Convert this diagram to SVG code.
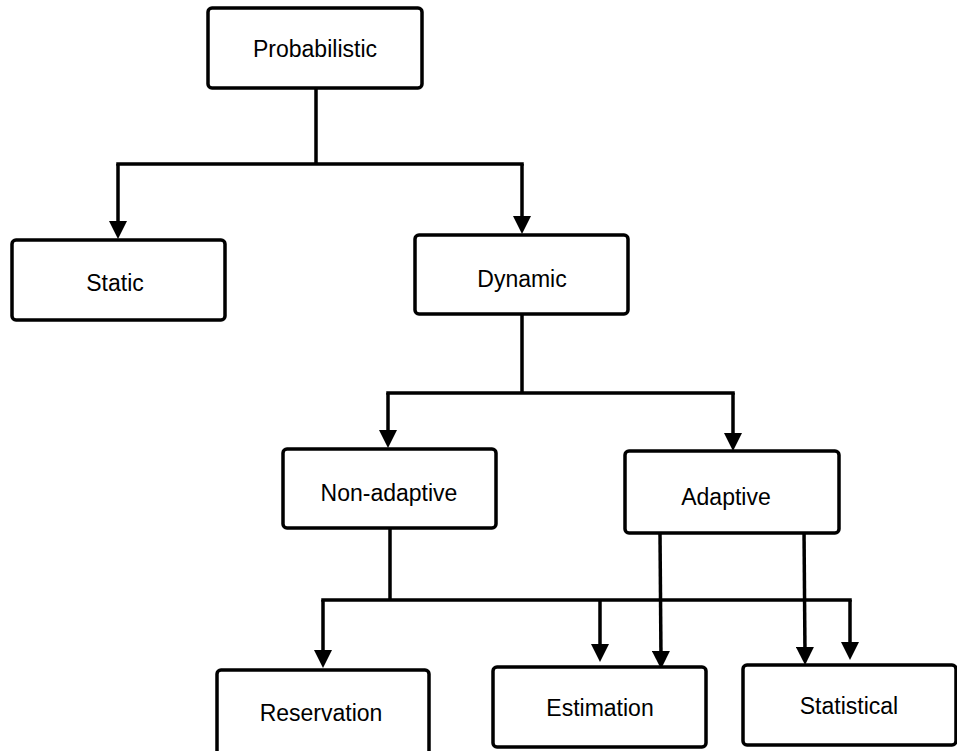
<svg xmlns="http://www.w3.org/2000/svg" width="957" height="751" viewBox="0 0 957 751">
<style>
.box{fill:#fff;stroke:#000;stroke-width:3.5}
.lbl{font-family:"Liberation Sans",Arial,sans-serif;font-size:23px;fill:#000;text-anchor:middle}
.ln{fill:none;stroke:#000;stroke-width:3.5;stroke-linecap:square}
.ar{fill:none;stroke:#000;stroke-width:3.5;stroke-linecap:butt;marker-end:url(#ah)}
</style>
<defs>
<marker id="ah" markerUnits="userSpaceOnUse" markerWidth="18" markerHeight="18" viewBox="0 0 18 18" refX="8" refY="9" orient="auto">
<path d="M0 0L18 9L0 18Z" fill="#000"/>
</marker>
</defs>
<rect width="957" height="751" fill="#fff"/>
<g id="connectors">
<path class="ln" d="M316 88V164M118 164H522"/>
<path class="ar" d="M118 164V229"/>
<path class="ar" d="M522 164V224"/>
<path class="ln" d="M522 314V393M388 393H733"/>
<path class="ar" d="M388 393V438"/>
<path class="ar" d="M733 393V441"/>
<path class="ln" d="M390 528V600M323 600H850"/>
<path class="ar" d="M323 600V658"/>
<path class="ar" d="M600 600V652"/>
<path class="ar" d="M850 600V650"/>
<path class="ar" d="M660 533L661 659"/>
<path class="ar" d="M804 529L805 655"/>
</g>
<g id="probabilistic"><rect class="box" x="208" y="8" width="214" height="80" rx="4"/><text class="lbl" x="315" y="57">Probabilistic</text></g>
<g id="static"><rect class="box" x="12" y="240" width="213" height="80" rx="4"/><text class="lbl" x="115" y="291">Static</text></g>
<g id="dynamic"><rect class="box" x="415" y="235" width="213" height="79" rx="4"/><text class="lbl" x="522" y="287">Dynamic</text></g>
<g id="non-adaptive"><rect class="box" x="283" y="449" width="213" height="79" rx="4"/><text class="lbl" x="389" y="501">Non-adaptive</text></g>
<g id="adaptive"><rect class="box" x="625" y="451" width="214" height="82" rx="4"/><text class="lbl" x="726" y="505">Adaptive</text></g>
<g id="reservation"><rect class="box" x="217" y="670" width="212" height="90" rx="4"/><text class="lbl" x="321" y="721">Reservation</text></g>
<g id="estimation"><rect class="box" x="493" y="667" width="213" height="80" rx="4"/><text class="lbl" x="600" y="716">Estimation</text></g>
<g id="statistical"><rect class="box" x="743" y="665" width="213" height="80" rx="4"/><text class="lbl" x="849" y="714">Statistical</text></g>
</svg>
